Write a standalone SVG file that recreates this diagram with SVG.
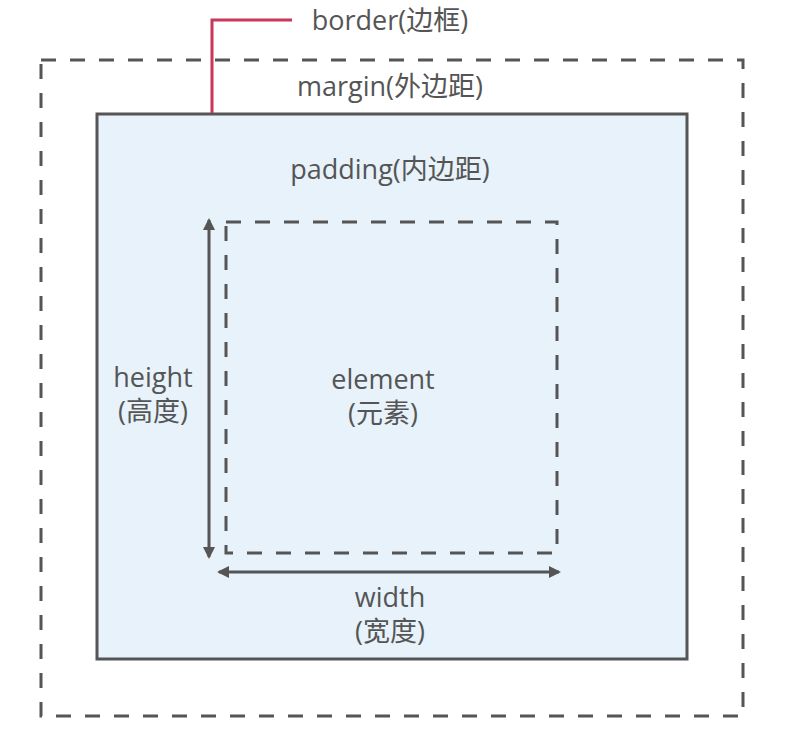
<svg xmlns="http://www.w3.org/2000/svg" width="812" height="737" viewBox="0 0 812 737">
<defs>
<style>
.lbl{font-family:"Open Sans","Noto Sans CJK SC",sans-serif;font-size:27px;fill:#555;text-anchor:middle}
.dash{fill:none;stroke:#555;stroke-width:3;stroke-dasharray:15 14}
.arr{stroke:#555;stroke-width:3;fill:none}
</style>
<marker id="ah" viewBox="0 0 12 12" refX="10" refY="6" markerWidth="12" markerHeight="12" markerUnits="userSpaceOnUse" orient="auto-start-reverse">
<path d="M0,0 L12,6 L0,12 Z" fill="#555"/>
</marker>
</defs>
<rect width="812" height="737" fill="#fff"/>
<g id="margin">
<rect class="dash" x="41" y="60" width="702" height="656"/>
<text class="lbl" x="390" y="96">margin(外边距)</text>
</g>
<g id="border">
<rect x="97" y="114" width="590" height="545" fill="#e7f2fb" stroke="#555" stroke-width="3"/>
</g>
<g id="padding">
<text class="lbl" x="390" y="179">padding(内边距)</text>
</g>
<g id="element">
<rect class="dash" x="226" y="222" width="331" height="331"/>
<text class="lbl" x="383" y="389">element</text>
<text class="lbl" x="383" y="423">(元素)</text>
</g>
<g id="height">
<text class="lbl" x="153" y="387">height</text>
<text class="lbl" x="153" y="421">(高度)</text>
</g>
<g id="width">
<text class="lbl" x="390" y="607">width</text>
<text class="lbl" x="390" y="641">(宽度)</text>
</g>
<g id="border-label">
<text class="lbl" x="390" y="30">border(边框)</text>
</g>
<g id="connectors">
<polyline points="212,113 212,20 292,20" fill="none" stroke="#c8385a" stroke-width="3"/>
<line class="arr" x1="209" y1="220" x2="209" y2="557" marker-start="url(#ah)" marker-end="url(#ah)"/>
<line class="arr" x1="219" y1="572" x2="559" y2="572" marker-start="url(#ah)" marker-end="url(#ah)"/>
</g>
</svg>
